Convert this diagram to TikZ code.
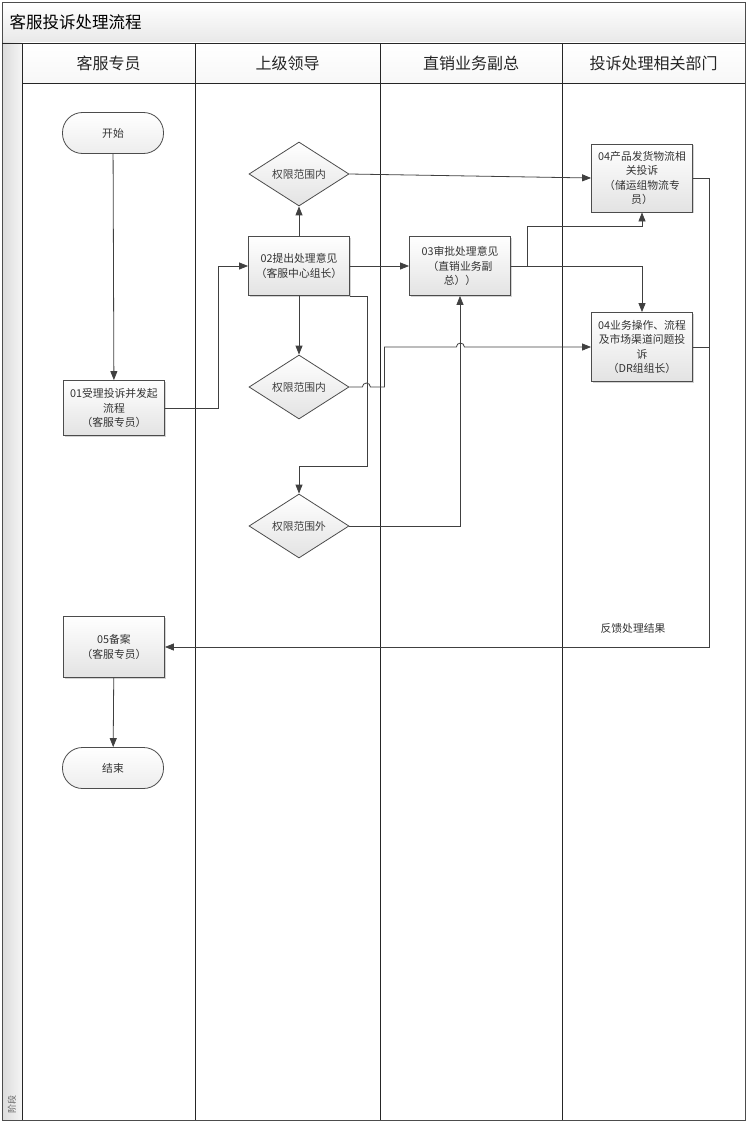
\documentclass[tikz,border=0pt]{standalone}
\usepackage{fontspec}
\setmainfont{Noto Sans CJK SC}
\usetikzlibrary{positioning,arrows.meta,shapes.geometric,shadows}
\begin{document}
\begin{tikzpicture}[x=1pt,y=-1pt,line width=0.8pt,font=\fontsize{10.8}{14.5}\selectfont]
	% --- Estilos ---
	\tikzset{
		proc/.style={draw=black!70, top color=white, bottom color=gray!22, text=black!80,
			minimum width=101pt, minimum height=59pt, align=center, inner sep=1pt,
			drop shadow={shadow xshift=1.2pt, shadow yshift=-1.2pt, opacity=.35}},
		term/.style={draw=black!70, rounded corners=20pt, top color=white, bottom color=gray!14,
			text=black!80, minimum width=101pt, minimum height=41pt},
		judge/.style={diamond, draw=black!70, top color=white, bottom color=gray!22, text=black!75,
			minimum width=100pt, minimum height=58pt, inner sep=0pt},
		flow/.style={draw=black!75, -{Triangle[length=9pt,width=7pt]}},
		lane/.style={draw=black!85}
	}
	\useasboundingbox (0,0) rectangle (748,1124);

	% --- Marco, título y carriles ---
	\fill[top color=white, bottom color=gray!18] (2,2) rectangle (745,43);
	\fill[left color=gray!28, right color=gray!8] (2,43) rectangle (22,1120);
	\fill[top color=white, bottom color=gray!6] (22,43) rectangle (745,83);
	\draw[black!70] (2,2) rectangle (745,1120);
	\draw[lane] (2,43) -- (745,43);
	\draw[lane] (22,83) -- (745,83);
	\draw[lane] (22,43) -- (22,1120);
	\foreach \x in {195,380,562} \draw[lane] (\x,43) -- (\x,1120);
	\node[anchor=west, font=\fontsize{16.5}{18}\selectfont] (titulo) at (6,22) {客服投诉处理流程};
	\node[rotate=90, anchor=west, text=black!60, font=\fontsize{9}{10}\selectfont] (fase) at (12,1117) {阶段};
	\foreach \x/\name [count=\i] in {%
		108.5/客服专员,
		287.5/上级领导,
		471/直销业务副总,
		653.5/投诉处理相关部门}
		\node[font=\fontsize{16}{18}\selectfont, text=black!85] (carril\i) at (\x,63) {\name};

	% --- Nodos ---
	\node[term] (inicio) at (113,133) {开始};
	\node[proc, minimum height=55pt] (p01) at (114,408) {01受理投诉并发起\\流程\\（客服专员）};
	\node[proc] (p02) at (299,266) {02提出处理意见\\（客服中心组长）};
	\node[judge] (d1) at (299,174) {权限范围内};
	\node[judge] (d2) at (299,387) {权限范围内};
	\node[judge] (d3) at (299,526) {权限范围外};
	\node[proc] (p03) at (460,266) {03审批处理意见\\（直销业务副\\总））};
	\node[proc, minimum height=68pt] (p04a) at (642,178) {04产品发货物流相\\关投诉\\（储运组物流专\\员）};
	\node[proc, minimum height=69pt] (p04b) at (642,347) {04业务操作、流程\\及市场渠道问题投\\诉\\（DR组组长）};
	\node[proc, minimum height=61pt] (p05) at (114,647) {05备案\\（客服专员）};
	\node[term] (fin) at (113,768) {结束};
	\node[text=black!80] (retro) at (633,628) {反馈处理结果};

	% --- Conectores ---
	\draw[flow] (inicio) -- (p01);
	\draw[flow] (p01.east) -- ++(53,0) |- (p02.west);
	\draw[flow] (p02) -- (d1);
	\draw[flow] (p02) -- (d2);
	\draw[flow] (p02.south east) -- ++(17,0) -- ++(0,170) -| (d3.north);
	\draw[flow] (p02) -- (p03);
	\draw[flow] (d1.east) -- (p04a.west);
	\draw[flow] (p03.east) -- ++(16,0) -- ++(0,-40) -| (p04a.south);
	\draw[flow] (p03.east) -| (p04b.north);
	\draw[flow] (d2.east) -- ++(13,0) arc[start angle=180, end angle=0, radius=4pt] -- ++(14,0)
		-- ++(0,-40) -- ++(72,0) arc[start angle=180, end angle=0, radius=4pt] -- (p04b.west);
	\draw[flow] (d3.east) -| (p03.south);
	\draw[flow] (p04a.east) -- ++(16,0) |- (p05.east);
	\draw[black!75] (p04b.east) -- ++(16,0);
	\draw[flow] (p05) -- (fin);
\end{tikzpicture}
\end{document}
